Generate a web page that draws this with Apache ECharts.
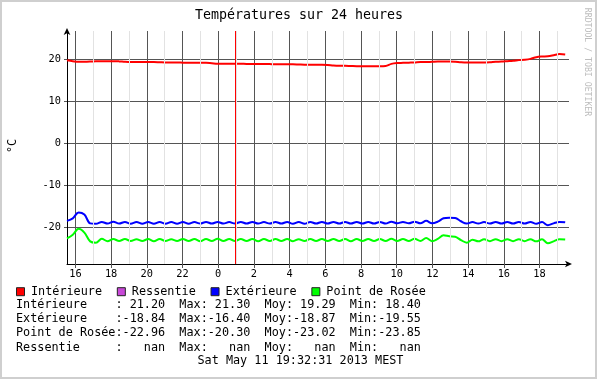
<!DOCTYPE html>
<html><head><meta charset="utf-8">
<script src="https://cdn.jsdelivr.net/npm/echarts@6/dist/echarts.min.js"></script>
<style>html,body{margin:0;padding:0;background:#fff}#c{width:597px;height:379px}</style>
</head><body><div id="c"></div><script>
const FONT = '"DejaVu Sans Mono", monospace';

// time axis (hours since midnight of the first day)
const startHour = 15.53;
const stepHours = 0.3245;
const axisMinHour = 15.53;
const axisMaxHour = 43.65;

const interieure = [19.8,19.6,19.45,19.45,19.5,
 19.6,19.6,19.6,19.6,19.55,
 19.45,19.4,19.4,19.4,19.4,
 19.4,19.35,19.3,19.3,19.3,
 19.25,19.2,19.2,19.2,19.2,
 19.1,19.0,19.0,19.0,19.0,
 19.0,18.95,18.95,18.95,18.95,
 18.9,18.85,18.85,18.85,18.85,
 18.8,18.75,18.75,18.75,18.75,
 18.7,18.55,18.5,18.5,18.45,
 18.4,18.4,18.4,18.4,18.4,
 18.45,18.95,19.15,19.2,19.25,
 19.3,19.4,19.4,19.45,19.5,
 19.5,19.5,19.45,19.35,19.3,
 19.3,19.3,19.3,19.35,19.45,
 19.5,19.6,19.7,19.85,19.95,
 20.15,20.55,20.7,20.75,21.0,
 21.3,21.2];

const exterieure = [-18.5,-17.9,-16.5,-17.0,-19.1,
 -19.2,-18.75,-19.15,-18.7,-19.15,
 -18.75,-19.2,-18.8,-19.2,-18.8,
 -19.2,-18.8,-19.2,-18.8,-19.2,
 -18.8,-19.2,-18.8,-19.15,-18.75,
 -19.15,-18.75,-19.15,-18.8,-19.15,
 -18.75,-19.15,-18.75,-19.15,-18.8,
 -19.15,-18.75,-19.15,-18.75,-19.2,
 -18.8,-19.2,-18.75,-19.15,-18.75,
 -19.15,-18.75,-19.15,-18.75,-19.15,
 -18.75,-19.15,-18.75,-19.15,-18.75,
 -19.15,-18.7,-19.1,-18.75,-19.1,
 -18.7,-19.1,-18.5,-19.1,-18.7,
 -17.9,-17.75,-17.8,-18.6,-19.15,
 -18.8,-19.15,-18.8,-19.15,-18.75,
 -19.15,-18.75,-19.15,-18.75,-19.15,
 -18.75,-19.2,-18.8,-19.55,-19.1,
 -18.75,-18.84];

const pointRosee = [-22.7,-21.8,-20.4,-21.3,-23.4,
 -23.7,-22.8,-23.35,-22.85,-23.3,
 -22.85,-23.3,-22.9,-23.3,-22.85,
 -23.35,-22.85,-23.3,-22.9,-23.3,
 -22.85,-23.3,-22.85,-23.35,-22.85,
 -23.3,-22.8,-23.3,-22.85,-23.3,
 -22.85,-23.3,-22.85,-23.35,-22.85,
 -23.3,-22.85,-23.3,-22.85,-23.35,
 -22.9,-23.3,-22.85,-23.3,-22.85,
 -23.3,-22.85,-23.3,-22.85,-23.35,
 -22.85,-23.3,-22.85,-23.3,-22.85,
 -23.3,-22.8,-23.3,-22.85,-23.3,
 -22.8,-23.3,-22.6,-23.35,-22.8,
 -21.95,-22.2,-22.3,-23.1,-23.7,
 -23.0,-23.4,-22.9,-23.35,-22.9,
 -23.35,-22.9,-23.35,-22.9,-23.35,
 -22.9,-23.4,-22.9,-23.85,-23.4,
 -22.9,-22.96];

const ressentie = []; // nan throughout

const xMajorTicks = [16,18,20,22,24,26,28,30,32,34,36,38,40,42];
const xMinorTicks = [17,19,21,23,25,27,29,31,33,35,37,39,41,43];
const yTicks = [-20,-10,0,10,20];
const vruleHour = 24.95;

const seriesNames = ['Intérieure','Ressentie','Extérieure','Point de Rosée'];
const seriesColors = ['#ff0000','#c848d8','#0000ff','#00ff00'];

const statNames = ['Intérieure','Extérieure','Point de Rosée','Ressentie'];
const statCur = ['21.20','-18.84','-22.96','nan'];
const statMax = ['21.30','-16.40','-20.30','nan'];
const statMoy = ['19.29','-18.87','-23.02','nan'];
const statMin = ['18.40','-19.55','-23.85','nan'];
const dateText = 'Sat May 11 19:32:31 2013 MEST';
const titleText = 'Températures sur 24 heures';

const toPairs = arr => arr.map((v, i) => [startHour + i * stepHours, v]);
const pad = (s, n) => (' '.repeat(n) + s).slice(-n);
const padR = (s, n) => (s + ' '.repeat(n)).slice(0, n);
const statLines = statNames.map((n, k) =>
  padR(n, 14) + ':' + pad(statCur[k], 6) + '  Max:' + pad(statMax[k], 6) +
  '  Moy:' + pad(statMoy[k], 6) + '  Min:' + pad(statMin[k], 6));

const dataByName = {
  'Intérieure': interieure, 'Ressentie': ressentie,
  'Extérieure': exterieure, 'Point de Rosée': pointRosee
};

const series = seriesNames.map((name, k) => ({
  name, type: 'line', xAxisIndex: 0, yAxisIndex: 0, z: 3,
  data: toPairs(dataByName[name]),
  showSymbol: false, smooth: 0.35, silent: true,
  color: seriesColors[k],
  lineStyle: { color: seriesColors[k], width: 2 },
  animation: false
}));
series[0].markLine = {
  silent: true, symbol: 'none', animation: false,
  label: { show: false },
  lineStyle: { color: '#ff0000', width: 1, type: 'solid' },
  data: [{ xAxis: vruleHour }]
};
// minor (hourly) grid lines, drawn beneath the major grid
series.push({
  name: 'minorGrid', type: 'line', data: [], z: 0, silent: true, animation: false,
  markLine: {
    silent: true, symbol: 'none', animation: false, label: { show: false },
    lineStyle: { color: '#e2e2e2', width: 1, type: 'solid' },
    data: xMinorTicks.map(h => ({ xAxis: h }))
  }
});

const statY = [304.5, 318.9, 333.2, 347.5];
const graphics = [
  { type: 'rect', silent: true, shape: { x: 1, y: 1, width: 595, height: 377 },
    style: { fill: 'none', stroke: '#cfcfcf', lineWidth: 2 } },
  { type: 'text', silent: true, x: 299, y: 16,
    style: { text: titleText, x: 0, y: 0, align: 'center', verticalAlign: 'middle',
      font: '13.3px ' + FONT, fill: '#000' } },
  { type: 'text', silent: true, x: 13, y: 146, rotation: Math.PI / 2,
    style: { text: '°C', x: 0, y: 0, align: 'center', verticalAlign: 'middle',
      font: '11.8px ' + FONT, fill: '#000' } },
  { type: 'text', silent: true, x: 587, y: 62, rotation: -Math.PI / 2,
    style: { text: 'RRDTOOL / TOBI OETIKER', x: 0, y: 0, align: 'center', verticalAlign: 'middle',
      font: '8.2px ' + FONT, fill: '#bdbdbd' } },
  ...statLines.map((t, k) => ({ type: 'text', silent: true, x: 16, y: statY[k],
    style: { text: t, x: 0, y: 0, align: 'left', verticalAlign: 'middle',
      font: '11.8px ' + FONT, fill: '#000' } })),
  { type: 'text', silent: true, x: 197.5, y: 360.7,
    style: { text: dateText, x: 0, y: 0, align: 'left', verticalAlign: 'middle',
      font: '11.8px ' + FONT, fill: '#000' } }
];

const chart = echarts.init(document.getElementById('c'), null, { renderer: 'canvas' });
chart.setOption({
  animation: false,
  backgroundColor: '#ffffff',
  grid: { left: 67, top: 31, width: 502, height: 233, containLabel: false },
  xAxis: [{
    type: 'value', min: axisMinHour, max: axisMaxHour, position: 'bottom', z: 1,
    axisLine: { show: true, onZero: false, lineStyle: { color: '#000', width: 1 },
      symbol: ['none', 'arrow'], symbolSize: [5, 7], symbolOffset: [0, 3] },
    axisTick: { show: true, customValues: xMajorTicks, length: 4, lineStyle: { color: '#555' } },
    axisLabel: { customValues: xMajorTicks, formatter: v => String(Math.round(v) % 24),
      fontFamily: FONT, fontSize: 10.3, color: '#000', margin: 5 },
    splitLine: { show: true, lineStyle: { color: '#555', width: 1 } }
  }],
  yAxis: [{
    type: 'value', min: -28.8, max: 26.8, z: 1,
    axisLine: { show: true, onZero: false, lineStyle: { color: '#000', width: 1 },
      symbol: ['none', 'arrow'], symbolSize: [5, 7], symbolOffset: [0, 3] },
    axisTick: { show: true, customValues: yTicks, length: 3, lineStyle: { color: '#555' } },
    axisLabel: { customValues: yTicks, fontFamily: FONT, fontSize: 10.3, color: '#000', margin: 6 },
    splitLine: { show: true, lineStyle: { color: '#555', width: 1 } }
  }],
  legend: {
    left: 16, top: 284.7, itemWidth: 8, itemHeight: 8, itemGap: 14.8, icon: 'rect',
    selectedMode: false, padding: 0,
    textStyle: { fontFamily: FONT, fontSize: 11.8, color: '#000', lineHeight: 14, padding: [0, 0, 0, 1.5] },
    itemStyle: { borderColor: '#222', borderWidth: 1 },
    data: seriesNames
  },
  series,
  graphic: graphics
});
</script></body></html>
